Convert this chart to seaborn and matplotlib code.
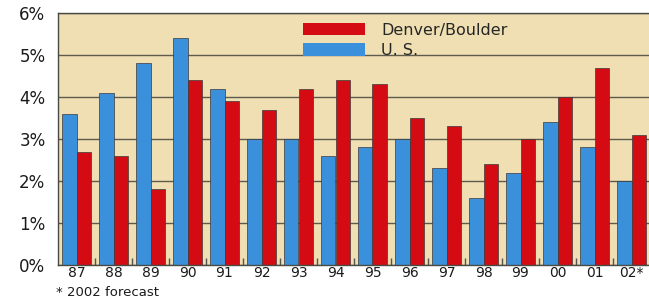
import numpy as np
import pandas as pd
import matplotlib
matplotlib.use("Agg")
import matplotlib.pyplot as plt
from matplotlib.patches import Patch
import seaborn as sns

years = ["87", "88", "89", "90", "91", "92", "93", "94",
         "95", "96", "97", "98", "99", "00", "01", "02*"]
us = [3.6, 4.1, 4.8, 5.4, 4.2, 3.0, 3.0, 2.6, 2.8, 3.0, 2.3, 1.6, 2.2, 3.4, 2.8, 2.0]
denver = [2.7, 2.6, 1.8, 4.4, 3.9, 3.7, 4.2, 4.4, 4.3, 3.5, 3.3, 2.4, 3.0, 4.0, 4.7, 3.1]
y_labels = ["0%", "1%", "2%", "3%", "4%", "5%", "6%"]

blue = "#3b90db"
red = "#d40b12"
tan = "#efdfb3"

df = pd.DataFrame({
    "year": years * 2,
    "value": us + denver,
    "series": ["U. S."] * len(years) + ["Denver/Boulder"] * len(years),
})

sns.set_style("white")
plt.rcParams["font.family"] = ["DejaVu Sans"]

fig = plt.figure(figsize=(6.49, 2.99), dpi=100)
ax = fig.add_axes([58 / 649, 34 / 299, 592 / 649, 252 / 299])
ax.set_facecolor(tan)

sns.barplot(data=df, x="year", y="value", hue="series",
            hue_order=["U. S.", "Denver/Boulder"], palette=[blue, red],
            saturation=1, width=0.76, gap=0, edgecolor="#3a3a3a",
            linewidth=0.5, legend=False, ax=ax)

ax.set_ylim(0, 6)
ax.set_xlim(-0.5, 15.5)
ax.set_yticks(range(7))
ax.set_yticklabels(y_labels, fontsize=12, color="#1a1a1a")
ax.yaxis.grid(True, color="#5e5a4c", linewidth=1)
ax.set_axisbelow(True)
ax.set_xlabel("")
ax.set_ylabel("")

ax.set_xticks(np.arange(0.5, 15, 1), minor=True)
ax.tick_params(axis="x", which="major", length=0, labelsize=10, pad=0.5,
               labelcolor="#1a1a1a")
ax.tick_params(axis="x", which="minor", direction="in", length=5,
               color="#555555", width=1, bottom=True)
ax.tick_params(axis="y", length=0, pad=9)

ax.spines["right"].set_visible(False)
for side in ["left", "bottom", "top"]:
    ax.spines[side].set_color("#4a4a44")
    ax.spines[side].set_linewidth(1)

handles = [Patch(facecolor=red, edgecolor="none", label="Denver/Boulder"),
           Patch(facecolor=blue, edgecolor="none", label="U. S.")]
ax.legend(handles=handles, loc="upper left", bbox_to_anchor=(0.414, 0.962),
          frameon=False, fontsize=11.5, handlelength=3.9, handleheight=0.85,
          handletextpad=1.0, labelspacing=0.35, borderpad=0, borderaxespad=0)

fig.text(56 / 649, 0.5 / 299, "* 2002 forecast", fontsize=9.5,
         va="bottom", ha="left", color="#1a1a1a")

fig.savefig("out.png", dpi=100)
